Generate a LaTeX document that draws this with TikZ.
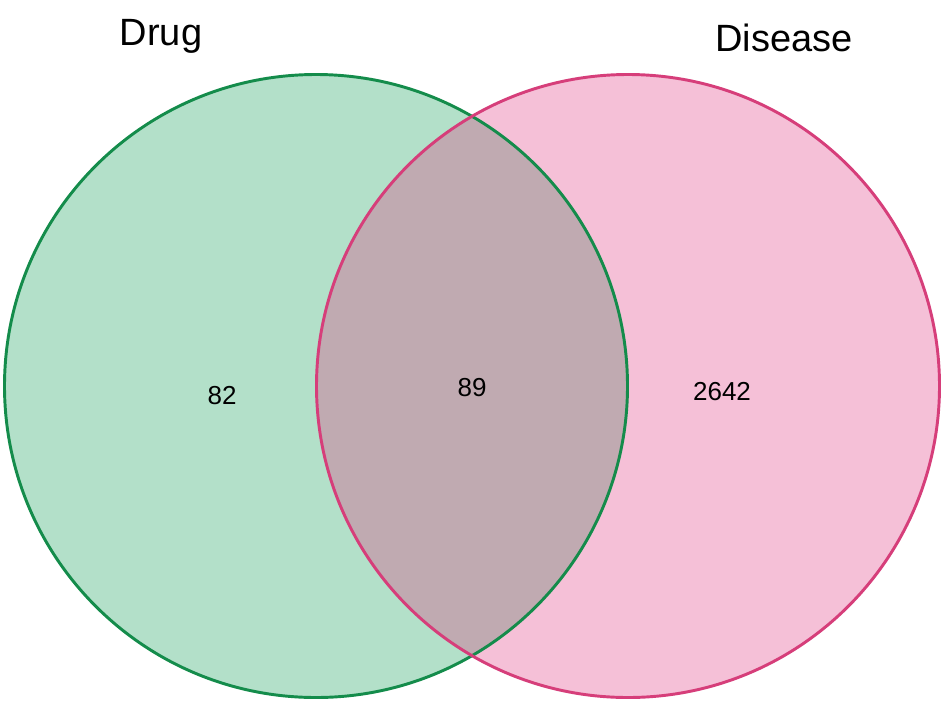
\documentclass[tikz,border=0pt]{standalone}
\usepackage{fontspec}
\setmainfont{Liberation Sans}
\definecolor{gfill}{RGB}{179,224,201}
\definecolor{pfill}{RGB}{245,192,215}
\definecolor{ofill}{RGB}{192,170,177}
\definecolor{gline}{RGB}{20,140,75}
\definecolor{pline}{RGB}{214,62,122}
\begin{document}
\begin{tikzpicture}[x=0.75pt,y=-0.75pt,
  settitle/.style={font=\fontsize{28.5pt}{30pt}\selectfont},
  setnum/.style={font=\fontsize{19.5pt}{21pt}\selectfont}]
\useasboundingbox (0,0) rectangle (945,704);
\fill[white] (0,0) rectangle (945,704);
\coordinate (cl) at (316,386);
\coordinate (cr) at (628,386);
\fill[gfill] (cl) circle[radius=311.5*0.75pt];
\fill[pfill] (cr) circle[radius=311.5*0.75pt];
\begin{scope}
\clip (cl) circle[radius=311.5*0.75pt];
\fill[ofill] (cr) circle[radius=311.5*0.75pt];
\end{scope}
\draw[gline,line width=2.2pt] (cl) circle[radius=311.5*0.75pt];
\draw[pline,line width=2.2pt] (cr) circle[radius=311.5*0.75pt];
\node[settitle] (drug) at (161,36) {Drug};
\node[settitle] (dis) at (784,38) {Disease};
\node[setnum] (a) at (222,396) {82};
\node[setnum] (b) at (472,388) {89};
\node[setnum] (c) at (722,392) {2642};
\end{tikzpicture}
\end{document}
